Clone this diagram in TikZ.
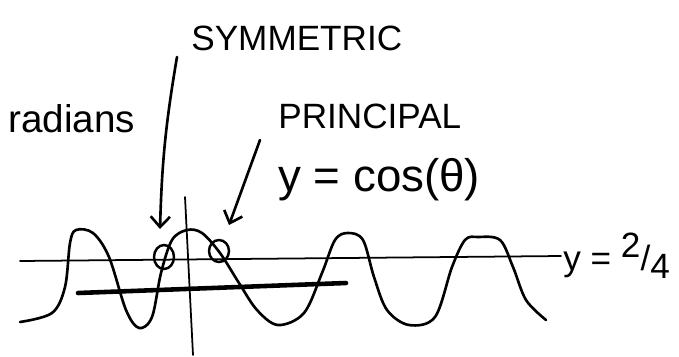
\documentclass[tikz,border=0pt]{standalone}
\usepackage{fontspec}
\setmainfont{Liberation Sans}
\usetikzlibrary{arrows.meta,shapes.geometric}

\begin{document}
\begin{tikzpicture}[x=0.02cm, y=-0.02cm,
    pen/.style={line width=1.5pt, line cap=round, line join=round},
    axisline/.style={line width=1pt, line cap=round},
    loop/.style={ellipse, draw, line width=1.4pt, inner sep=0pt},
    note/.style={inner sep=0pt, anchor=base west},
    pointer/.style={pen, -{Straight Barb[length=6pt, width=11pt]}},
]
    \useasboundingbox (0,0) rectangle (679,356);

    % Labels
    \node[note, font=\fontsize{20}{24}\selectfont] (sym) at (191,50) {SYMMETRIC};
    \node[note, font=\fontsize{22}{26}\selectfont] (rad) at (8,132) {radians};
    \node[note, font=\fontsize{20}{24}\selectfont] (princ) at (278,128) {PRINCIPAL};
    \node[note, font=\fontsize{26}{30}\selectfont] (curve) at (278,191) {y = cos(θ)};
    \node[note, font=\fontsize{20}{24}\selectfont] (level) at (563,270)
        {y = \raisebox{0.35em}{2}/\raisebox{-0.25em}{4}};

    % Axes
    \coordinate (hl) at (20,261);
    \coordinate (hr) at (561,256);
    \coordinate (vt) at (185,197);
    \coordinate (vb) at (193,355);
    \draw[axisline] (hl) -- (hr);
    \draw[axisline] (vt) -- (vb);

    % Thick bar
    \coordinate (bl) at (78,293);
    \coordinate (br) at (346,283);
    \draw[line width=2.6pt, line cap=round] (bl) -- (br);

    % Wave
    \draw[pen] plot[smooth, tension=0.55] coordinates {
        (20,322) (52,313) (65,287) (70,243) (76,230) (93,233) (109,257)
        (126,310) (139,328) (152,317) (161,273) (172,240) (187,230)
        (202,233) (220,253) (239,283) (257,310) (278,325) (304,313)
        (322,273) (335,240) (348,233) (363,240) (374,277) (387,310)
        (409,325) (435,317) (452,267) (465,240) (478,237) (500,240)
        (513,267) (526,300) (546,320)};

    % Circled points
    \node[loop, minimum width=0.4cm, minimum height=0.48cm] (symring) at (164,257) {};
    \node[loop, minimum width=0.4cm, minimum height=0.44cm] (princring) at (219,251) {};

    % Pointers
    \coordinate (symtail) at (177,57);
    \coordinate (symtip) at (160,229);
    \coordinate (princtail) at (260,140);
    \coordinate (princtip) at (229,225);
    \draw[pointer] (symtail) to[bend right=4] (symtip);
    \draw[pointer] (princtail) -- (princtip);
\end{tikzpicture}
\end{document}
